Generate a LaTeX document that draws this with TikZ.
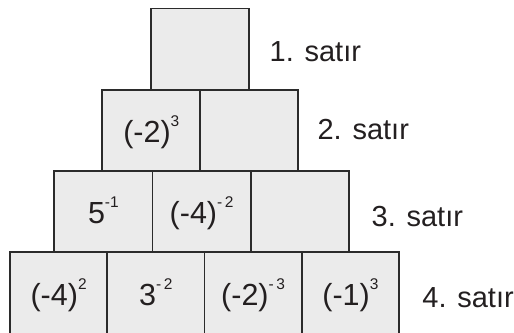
\documentclass[tikz,border=0pt]{standalone}
\usepackage{fontspec}
\setmainfont{Liberation Sans}
\definecolor{cellfill}{HTML}{EBEBEB}
\definecolor{celldraw}{HTML}{2B2B2B}
\definecolor{inkc}{HTML}{231F20}
\newcommand\expo[1]{\raisebox{16pt}{\fontsize{15.5}{15.5}\selectfont #1}}
\newcommand\gp{\hspace{2.6pt}}
\tikzset{
  cell/.style={rectangle, draw=celldraw, fill=cellfill, line width=1.8pt, inner sep=0pt},
  val/.style={anchor=base, inner sep=0pt, font=\fontsize{30.5}{30.5}\selectfont, text=inkc},
  lab/.style={anchor=base west, inner sep=0pt, font=\fontsize{29}{29}\selectfont, text=inkc}
}
\begin{document}
\begin{tikzpicture}[x=1pt,y=-1pt]
\useasboundingbox (0,0) rectangle (514,332);
% row 1
\node[cell, minimum width=98.3pt, minimum height=81.2pt] (b11) at (199.85,49.1) {};
% row 2
\node[cell, minimum width=98pt, minimum height=81.3pt] (b21) at (151.3,130.35) {};
\node[cell, minimum width=98pt, minimum height=81.3pt] (b22) at (249.3,130.35) {};
% row 3
\node[cell, minimum width=98.23pt, minimum height=81pt] (b31) at (103.4,211.5) {};
\node[cell, minimum width=98.23pt, minimum height=81pt] (b32) at (201.6,211.5) {};
\node[cell, minimum width=98.23pt, minimum height=81pt] (b33) at (299.8,211.5) {};
% row 4
\node[cell, minimum width=97.25pt, minimum height=82.5pt] (b41) at (58.6,293.25) {};
\node[cell, minimum width=97.25pt, minimum height=82.5pt] (b42) at (155.9,293.25) {};
\node[cell, minimum width=97.25pt, minimum height=82.5pt] (b43) at (253.1,293.25) {};
\node[cell, minimum width=97.25pt, minimum height=82.5pt] (b44) at (350.4,293.25) {};
% values
\node[val] (t21) at (151.3,142.7) {(-2)\expo{3}};
\node[val] (t31) at (103.4,223.3) {5\expo{-1}};
\node[val] (t32) at (201.6,223.3) {(-4)\expo{-\gp 2}};
\node[val] (t41) at (58.6,305) {(-4)\expo{2}};
\node[val] (t42) at (155.9,305) {3\expo{-\gp 2}};
\node[val] (t43) at (253.1,305) {(-2)\expo{-\gp 3}};
\node[val] (t44) at (350.4,305) {(-1)\expo{3}};
% row labels
\node[lab] (l1) at (269.5,61.7) {1. satır};
\node[lab] (l2) at (317.4,139.3) {2. satır};
\node[lab] (l3) at (371.5,226.7) {3. satır};
\node[lab] (l4) at (422.2,307) {4. satır};
\end{tikzpicture}
\end{document}
